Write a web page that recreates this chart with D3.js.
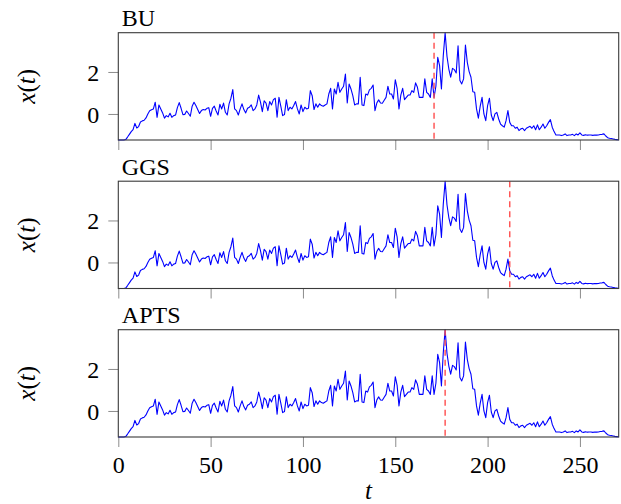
<!DOCTYPE html>
<html>
<head>
<meta charset="utf-8">
<script src="https://cdn.jsdelivr.net/npm/d3@7"></script>
<style>
  html, body { margin: 0; padding: 0; background: #fff; }
  svg { display: block; }
  svg text { font-family: "Liberation Serif", "Times New Roman", serif !important; fill: #000; }
</style>
</head>
<body>
<script>
// ---------- data ----------
const series = [
  -1.24,-1.24,-1.24,-1.24,-1.22,-1.10,-0.97,-0.84,-0.75,-0.45,
  -0.67,-0.60,-0.38,-0.33,-0.30,-0.19,0.00,0.15,0.20,0.24,
  0.56,-0.16,0.43,0.24,0.05,-0.20,-0.08,-0.14,0.03,-0.16,
  -0.08,-0.05,0.30,0.54,0.27,-0.03,-0.02,0.14,0.02,-0.11,
  0.37,0.56,0.40,0.21,0.02,0.16,0.21,0.19,0.27,0.30,
  -0.11,0.27,0.37,0.14,-0.05,0.46,0.24,0.52,0.08,-0.05,
  0.48,0.75,1.16,0.24,0.16,-0.05,0.24,0.48,0.21,0.05,
  0.27,0.32,0.43,0.16,0.24,0.43,0.90,0.56,0.11,0.63,
  0.52,0.16,0.59,0.43,0.68,0.75,-0.16,0.79,0.37,-0.08,
  -0.03,0.68,0.16,0.32,0.24,0.40,0.59,0.24,0.00,0.43,
  0.11,0.32,0.24,0.27,1.11,0.87,0.21,0.48,0.32,0.48,
  0.40,0.37,0.43,0.48,0.95,1.22,0.24,1.19,0.95,1.51,
  1.03,1.19,1.32,1.90,0.52,1.43,1.19,0.87,0.43,0.48,
  0.48,1.75,0.43,0.40,0.95,0.90,1.15,1.22,1.38,0.16,
  0.52,0.67,0.52,0.51,0.65,0.79,1.32,0.95,0.95,0.71,
  1.63,1.22,0.24,0.90,1.22,0.68,0.79,0.90,0.90,1.11,
  1.03,1.48,1.27,0.79,0.79,0.79,1.67,1.03,0.95,0.79,
  1.67,0.79,1.32,2.70,2.30,1.19,2.78,3.87,2.75,2.14,
  1.75,2.17,2.11,1.95,3.25,1.59,1.43,1.67,3.28,2.46,
  2.02,1.75,1.06,1.03,0.24,-0.20,0.37,0.79,0.00,-0.32,
  0.40,0.75,-0.05,-0.32,0.00,0.08,-0.24,-0.48,-0.56,-0.63,
  -0.32,0.16,-0.40,-0.56,-0.56,-0.68,-0.63,-0.79,-0.71,-0.68,
  -0.79,-0.68,-0.63,-0.59,-0.68,-0.56,-0.75,-0.52,-0.75,-0.63,
  -0.48,-0.68,-0.56,-0.40,-0.27,-0.63,-0.84,-1.00,-1.00,-1.00,
  -1.03,-1.00,-0.95,-1.03,-1.00,-1.00,-0.97,-1.03,-0.95,-1.00,
  -0.90,-1.00,-1.02,-0.99,-1.01,-1.00,-1.00,-1.02,-1.00,-1.01,
  -1.00,-0.98,-0.97,-0.95,-1.05,-1.13,-1.16,-1.17,-1.19,-1.21,
  -1.22,-1.24
];
const panelTitles = ["BU", "GGS", "APTS"];
const changePoints = [171, 212, 177];
const xTicks = [0, 50, 100, 150, 200, 250];
const yTicks = [0, 2];
const xLabel = "t";

// ---------- layout ----------
const W = 621, H = 504;
const left = 118.3, right = 618.7;
const panelTop0 = 32.7, panelStep = 148.5, panelH = 107.3;

const svg = d3.select("body").append("svg").attr("width", W).attr("height", H);

const x = d3.scaleLinear().domain([0, series.length - 1]).range([left, right]);
const yExt = d3.extent(series);

const line = d3.line().x((d, i) => x(i));

panelTitles.forEach((title, p) => {
  const top = panelTop0 + p * panelStep;
  const bottom = top + panelH;
  const y = d3.scaleLinear().domain(yExt).range([bottom, top]);
  const g = svg.append("g");

  // y axis
  const ya = g.append("g").attr("transform", `translate(${left},0)`)
    .call(d3.axisLeft(y).tickValues(yTicks).tickSize(10).tickPadding(9).tickFormat(d3.format("d")));
  ya.attr("font-family", null).attr("font-size", null);
  ya.select(".domain").remove();
  ya.selectAll(".tick line").attr("stroke", "#8c8c8c").attr("stroke-width", 1);
  ya.selectAll(".tick text").attr("font-size", 24).attr("dy", "0.34em");

  // x axis
  const xa = g.append("g").attr("transform", `translate(0,${bottom})`)
    .call(d3.axisBottom(x).tickValues(xTicks).tickSize(10).tickPadding(9)
      .tickFormat(p === panelTitles.length - 1 ? d3.format("d") : () => ""));
  xa.attr("font-family", null).attr("font-size", null);
  xa.select(".domain").remove();
  xa.selectAll(".tick line").attr("stroke", "#8c8c8c").attr("stroke-width", 1);
  xa.selectAll(".tick text").attr("font-size", 24);

  // data line
  g.append("path")
    .datum(series)
    .attr("fill", "none")
    .attr("stroke", "#0000ff")
    .attr("stroke-width", 1.1)
    .attr("stroke-linejoin", "round")
    .attr("d", line.y(d => y(d)));

  // change point
  g.append("line")
    .attr("x1", x(changePoints[p])).attr("x2", x(changePoints[p]))
    .attr("y1", top).attr("y2", bottom)
    .attr("stroke", "#ff4d4d")
    .attr("stroke-width", 1.4)
    .attr("stroke-dasharray", "6,4");

  // frame
  g.append("rect")
    .attr("x", left).attr("y", top)
    .attr("width", right - left).attr("height", panelH)
    .attr("fill", "none").attr("stroke", "#3a3a3a").attr("stroke-width", 1.1);

  // title
  g.append("text")
    .attr("x", left + 3.5).attr("y", top - 6.5)
    .attr("font-size", 24)
    .text(title);

  // y label
  const yl = g.append("text")
    .attr("transform", `translate(35,${(top + bottom) / 2}) rotate(-90)`)
    .attr("text-anchor", "middle")
    .attr("font-size", 25);
  yl.append("tspan").attr("font-style", "italic").text("x");
  yl.append("tspan").text("(");
  yl.append("tspan").attr("font-style", "italic").text("t");
  yl.append("tspan").text(")");
});

// x label
svg.append("text")
  .attr("x", (left + right) / 2).attr("y", 499)
  .attr("text-anchor", "middle")
  .attr("font-size", 25)
  .attr("font-style", "italic")
  .text(xLabel);
</script>
</body>
</html>
